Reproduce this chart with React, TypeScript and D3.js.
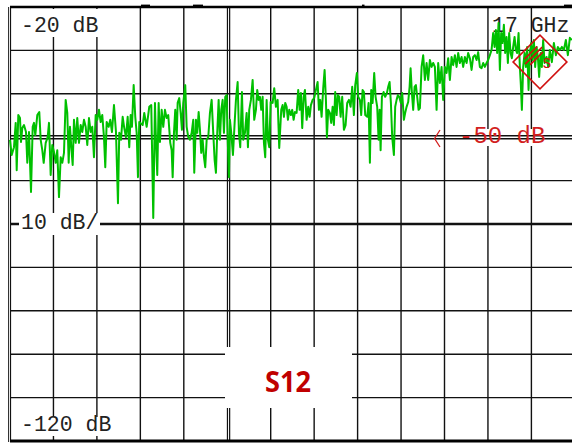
import React from "react";
import * as d3 from "d3";

// Frequency of each trace point (MHz) and measured S12 (dB)
const freqMHz = [
  0, 51, 120, 171, 201, 249, 300, 330, 369, 420, 480, 519, 570, 630, 681, 720, 759, 819, 879, 921,
  969, 1011, 1071, 1131, 1170, 1221, 1269, 1320, 1371, 1419, 1470, 1521, 1569, 1620, 1671, 1719, 1761, 1800, 1839, 1881,
  1920, 1971, 2019, 2070, 2121, 2169, 2220, 2271, 2319, 2370, 2421, 2469, 2520, 2571, 2619, 2670, 2721, 2769, 2820, 2859,
  2901, 2961, 3009, 3060, 3120, 3180, 3240, 3279, 3330, 3381, 3429, 3480, 3531, 3579, 3621, 3660, 3711, 3759, 3801, 3840,
  3879, 3981, 4029, 4101, 4179, 4239, 4299, 4350, 4380, 4419, 4461, 4500, 4551, 4599, 4650, 4701, 4749, 4809, 4851, 4881,
  4920, 4959, 5001, 5031, 5079, 5121, 5160, 5199, 5259, 5301, 5349, 5400, 5451, 5499, 5529, 5580, 5619, 5661, 5700, 5739,
  5781, 5820, 5859, 5901, 5949, 6000, 6051, 6099, 6141, 6180, 6219, 6261, 6300, 6339, 6381, 6420, 6459, 6501, 6531, 6570,
  6600, 6639, 6690, 6741, 6780, 6831, 6870, 6909, 6960, 6999, 7050, 7101, 7140, 7179, 7230, 7281, 7329, 7380, 7419, 7461,
  7500, 7539, 7581, 7620, 7659, 7701, 7740, 7779, 7821, 7881, 7929, 7980, 8031, 8079, 8139, 8181, 8220, 8259, 8301, 8340,
  8379, 8430, 8469, 8511, 8550, 8601, 8649, 8691, 8730, 8769, 8811, 8850, 8901, 8949, 8991, 9030, 9081, 9129, 9180, 9231,
  9270, 9309, 9351, 9399, 9441, 9480, 9510, 9549, 9600, 9639, 9681, 9720, 9759, 9801, 9840, 9879, 9921, 9969, 10020, 10071,
  10119, 10170, 10221, 10269, 10320, 10359, 10410, 10449, 10500, 10539, 10581, 10620, 10659, 10719, 10761, 10800, 10839, 10881, 10929, 10971,
  11019, 11061, 11091, 11121, 11160, 11211, 11259, 11310, 11349, 11391, 11430, 11469, 11520, 11559, 11601, 11640, 11679, 11730, 11769, 11820,
  11859, 11901, 11949, 11991, 12021, 12060, 12099, 12141, 12180, 12219, 12261, 12300, 12351, 12399, 12450, 12501, 12549, 12600, 12651, 12699,
  12750, 12801, 12849, 12900, 12951, 12999, 13050, 13101, 13149, 13200, 13251, 13299, 13350, 13401, 13449, 13500, 13551, 13599, 13650, 13701,
  13749, 13800, 13851, 13899, 13950, 14001, 14049, 14100, 14151, 14199, 14250, 14301, 14349, 14400, 14451, 14499, 14541, 14580, 14619, 14661,
  14700, 14739, 14781, 14820, 14859, 14901, 14940, 14979, 15021, 15060, 15099, 15141, 15180, 15219, 15261, 15300, 15330, 15360, 15399, 15441,
  15480, 15519, 15561, 15600, 15639, 15681, 15720, 15759, 15801, 15840, 15879, 15921, 15960, 15999, 16041, 16101, 16149, 16200, 16260, 16320,
  16380, 16440, 16500, 16560, 16620, 16680, 16740, 16800, 16860,
];

const s12dB = [
  -50.6, -54.1, -52.3, -46.7, -57.6, -44.9, -45.6, -51.1, -47.9, -47.2, -48.8, -55.9, -48.8, -62.6, -47.6, -46.7, -49.5, -44.9, -44.2, -50.6,
  -53.0, -55.9, -51.3, -50.0, -46.7, -58.7, -51.8, -53.4, -55.9, -53.0, -63.8, -54.6, -55.9, -53.6, -41.4, -44.4, -55.9, -47.6, -52.3, -56.4,
  -46.0, -51.3, -45.6, -51.3, -47.2, -48.8, -46.0, -47.6, -51.8, -45.6, -48.8, -47.6, -54.6, -44.9, -46.0, -43.7, -46.5, -44.9, -50.0, -56.9,
  -46.5, -47.6, -46.0, -48.8, -42.6, -48.8, -65.2, -49.0, -50.6, -45.3, -47.9, -50.0, -45.3, -52.3, -44.9, -47.6, -38.0, -45.3, -49.0, -59.2,
  -46.5, -47.2, -44.4, -47.6, -43.0, -42.6, -68.6, -42.1, -50.6, -58.7, -42.1, -51.1, -43.7, -47.6, -43.7, -45.6, -44.9, -51.3, -53.0, -59.2,
  -49.0, -43.7, -50.6, -42.1, -41.0, -44.4, -48.3, -42.1, -38.0, -47.6, -50.0, -50.6, -49.0, -46.0, -58.2, -46.0, -49.0, -44.2, -48.3, -53.6,
  -50.6, -54.6, -56.9, -50.6, -50.0, -44.4, -41.4, -49.0, -55.3, -58.2, -49.0, -41.4, -50.6, -43.7, -41.4, -49.0, -40.7, -40.3, -50.0, -59.2,
  -46.0, -49.0, -54.1, -46.7, -41.4, -37.3, -49.0, -52.3, -39.6, -50.6, -49.0, -44.4, -52.3, -43.7, -41.4, -36.8, -46.0, -43.7, -39.1, -41.4,
  -40.7, -43.7, -40.7, -51.3, -54.6, -41.4, -50.6, -52.3, -41.9, -42.1, -38.7, -43.0, -41.4, -52.5, -43.7, -42.6, -45.3, -42.1, -43.0, -46.0,
  -43.7, -44.9, -43.7, -46.0, -44.2, -44.4, -39.1, -43.7, -39.8, -47.9, -40.7, -39.1, -46.0, -43.0, -45.3, -42.6, -41.4, -41.0, -39.1, -37.3,
  -43.7, -41.4, -45.3, -38.7, -34.5, -41.4, -50.0, -43.7, -44.4, -46.7, -43.0, -47.2, -39.6, -44.9, -40.3, -40.7, -45.3, -40.7, -48.3, -47.2,
  -42.1, -41.4, -43.0, -38.4, -44.9, -38.0, -35.2, -40.7, -41.4, -44.9, -39.1, -39.6, -44.9, -45.3, -42.1, -55.9, -39.1, -42.1, -35.2, -40.7,
  -43.0, -50.6, -43.7, -53.0, -40.7, -39.6, -40.7, -39.8, -38.4, -37.3, -42.1, -50.0, -54.1, -43.0, -41.4, -40.3, -40.7, -42.1, -39.8, -46.0,
  -44.4, -43.0, -41.9, -38.4, -34.1, -39.8, -43.7, -38.4, -38.0, -40.7, -43.7, -43.3, -33.8, -31.1, -36.8, -32.9, -36.8, -32.2, -33.8, -32.9,
  -33.8, -43.7, -32.9, -37.5, -33.8, -41.4, -33.8, -35.2, -31.8, -36.8, -31.5, -33.4, -31.1, -33.8, -30.6, -32.9, -31.5, -33.8, -31.5, -32.9,
  -30.6, -31.8, -34.5, -31.5, -31.1, -32.2, -30.4, -33.8, -34.1, -32.9, -33.8, -32.9, -32.2, -31.1, -29.9, -26.0, -29.2, -25.3, -30.6, -23.7,
  -34.5, -26.0, -28.3, -24.1, -30.6, -26.9, -32.9, -26.0, -30.6, -31.8, -29.2, -26.9, -29.9, -30.6, -26.0, -33.8, -38.0, -43.7, -33.8, -30.6,
  -33.8, -29.2, -39.1, -30.6, -28.3, -32.2, -27.6, -33.8, -29.2, -31.5, -36.1, -30.6, -33.8, -27.6, -32.9, -31.5, -33.8, -29.9, -32.7, -28.3,
  -31.1, -29.2, -29.9, -29.2, -29.9, -27.6, -31.1, -27.1, -27.6,
];

// Axis settings
const refLevel = -20;
const bottomLevel = -120;
const dbTicks = [-30, -40, -50, -60, -70, -80, -90, -100, -110];
const referenceDb = -50;
const centerDb = -70;
const xDivisions = d3.range(1, 13);
const topMarks = [[141, 150], [193, 203], [362, 364.5], [564, 572]];

const W = 572;
const H = 443;
const LEFT = 10;
const TOP = 7;
const BOTTOM = 441;
const DIV = 43.45;

export default function App() {
  const y = d3.scaleLinear().domain([refLevel, bottomLevel]).range([TOP, BOTTOM]);
  const divX = d3.scaleLinear().domain([0, 13]).range([LEFT, LEFT + 13 * DIV]);
  const x = d3.scaleLinear().domain([0, 16950]).range([LEFT, LEFT + 13 * DIV]);
  const line = d3
    .line<number>()
    .x((_, i) => x(freqMHz[i]))
    .y((d) => y(d));
  const mono = "'Liberation Mono', 'DejaVu Sans Mono', monospace";
  const grid = "#111";
  const red = "#d21f1f";
  const yRef = y(referenceDb);
  return (
    <svg
      width={W}
      height={H}
      style={{ position: "absolute", left: 0, top: 0, background: "#fff" }}
    >
      <rect x={0} y={0} width={W} height={H} fill="#fff" />
      {/* vertical grid */}
      {xDivisions.map((i) =>
        i === 5 ? (
          <g key={i}>
            <line x1={divX(i) + 0.2} x2={divX(i) + 0.2} y1={TOP} y2={BOTTOM} stroke={grid} strokeWidth={1.2} />
            <line x1={divX(i) + 2.4} x2={divX(i) + 2.4} y1={TOP} y2={BOTTOM} stroke={grid} strokeWidth={1.2} />
          </g>
        ) : (
          <line key={i} x1={divX(i)} x2={divX(i)} y1={TOP} y2={BOTTOM} stroke={grid} strokeWidth={1.4} />
        )
      )}
      {/* horizontal grid */}
      {dbTicks
        .filter((d) => d !== referenceDb)
        .map((d) => (
          <line
            key={d}
            x1={LEFT}
            x2={W}
            y1={y(d)}
            y2={y(d)}
            stroke={grid}
            strokeWidth={d === centerDb ? 2.4 : 1.4}
          />
        ))}
      {/* label backgrounds */}
      <rect x={12} y={9} width={90} height={28} fill="#fff" />
      <rect x={19} y={213} width={81} height={22} fill="#fff" />
      <rect x={12} y={417} width={104} height={19} fill="#fff" />
      <rect x={446} y={129} width={106} height={17} fill="#fff" />
      <rect x={225} y={347} width={127} height={61} fill="#fff" />
      {/* reference line (double) */}
      <line x1={LEFT} x2={W} y1={yRef - 1.4} y2={yRef - 1.4} stroke={grid} strokeWidth={1.5} />
      <line x1={LEFT} x2={W} y1={yRef + 1.5} y2={yRef + 1.5} stroke={grid} strokeWidth={1.5} />
      {/* borders */}
      <line x1={8.5} x2={8.5} y1={TOP} y2={BOTTOM + 1} stroke="#333" strokeWidth={1} />
      <line x1={10.5} x2={10.5} y1={TOP} y2={BOTTOM + 1} stroke="#111" strokeWidth={1.2} />
      <line x1={LEFT} x2={W} y1={TOP} y2={TOP} stroke="#000" strokeWidth={2.4} />
      <line x1={LEFT} x2={W} y1={BOTTOM} y2={BOTTOM} stroke="#000" strokeWidth={3} />
      {topMarks.map(([a, b], i) => (
        <rect key={i} x={a} y={4.6} width={b - a} height={2.6} fill="#000" />
      ))}
      {/* labels */}
      <text x={21} y={31.5} fontFamily={mono} fontSize={21.5} fill="#222">-20 dB</text>
      <text x={21} y={228.5} fontFamily={mono} fontSize={21.5} fill="#222">10 dB/</text>
      <text x={21} y={430.5} fontFamily={mono} fontSize={21.5} fill="#222">-120 dB</text>
      <text x={492} y={31.5} fontFamily={mono} fontSize={21.5} fill="#222">17 GHz</text>
      <path d="M440,130 L434.6,138.5 L440,147" fill="none" stroke={red} strokeWidth={1.3} />
      <text x={459} y={143.3} fontFamily={mono} fontSize={24} fill={red}>-50 dB</text>
      {/* trace */}
      <path d={line(s12dB) ?? ""} fill="none" stroke="#00c000" strokeWidth={2} strokeLinejoin="round" />
      {/* marker symbol */}
      <g transform="translate(540,62) rotate(45)" stroke="#d01010" fill="none" strokeWidth={1.6}>
        <rect x={-19} y={-19} width={38} height={38} />
        <line x1={-13} x2={-13} y1={-9} y2={9} />
        <line x1={-9} x2={-9} y1={-12} y2={12} />
        <line x1={-5} x2={-5} y1={-9} y2={9} />
        <text x={6} y={2} fontFamily={mono} fontSize={14} fill="#d01010" stroke="none" transform="rotate(-45 6 2)">S</text>
      </g>
      {/* S12 label */}
      <text
        x={288}
        y={391.5}
        textAnchor="middle"
        fontFamily="'Open Sans', 'Noto Sans', sans-serif"
        fontWeight="bold"
        fontSize={29}
        fill="#c00000"
        textLength={46}
        lengthAdjust="spacingAndGlyphs"
      >
        S12
      </text>
    </svg>
  );
}
